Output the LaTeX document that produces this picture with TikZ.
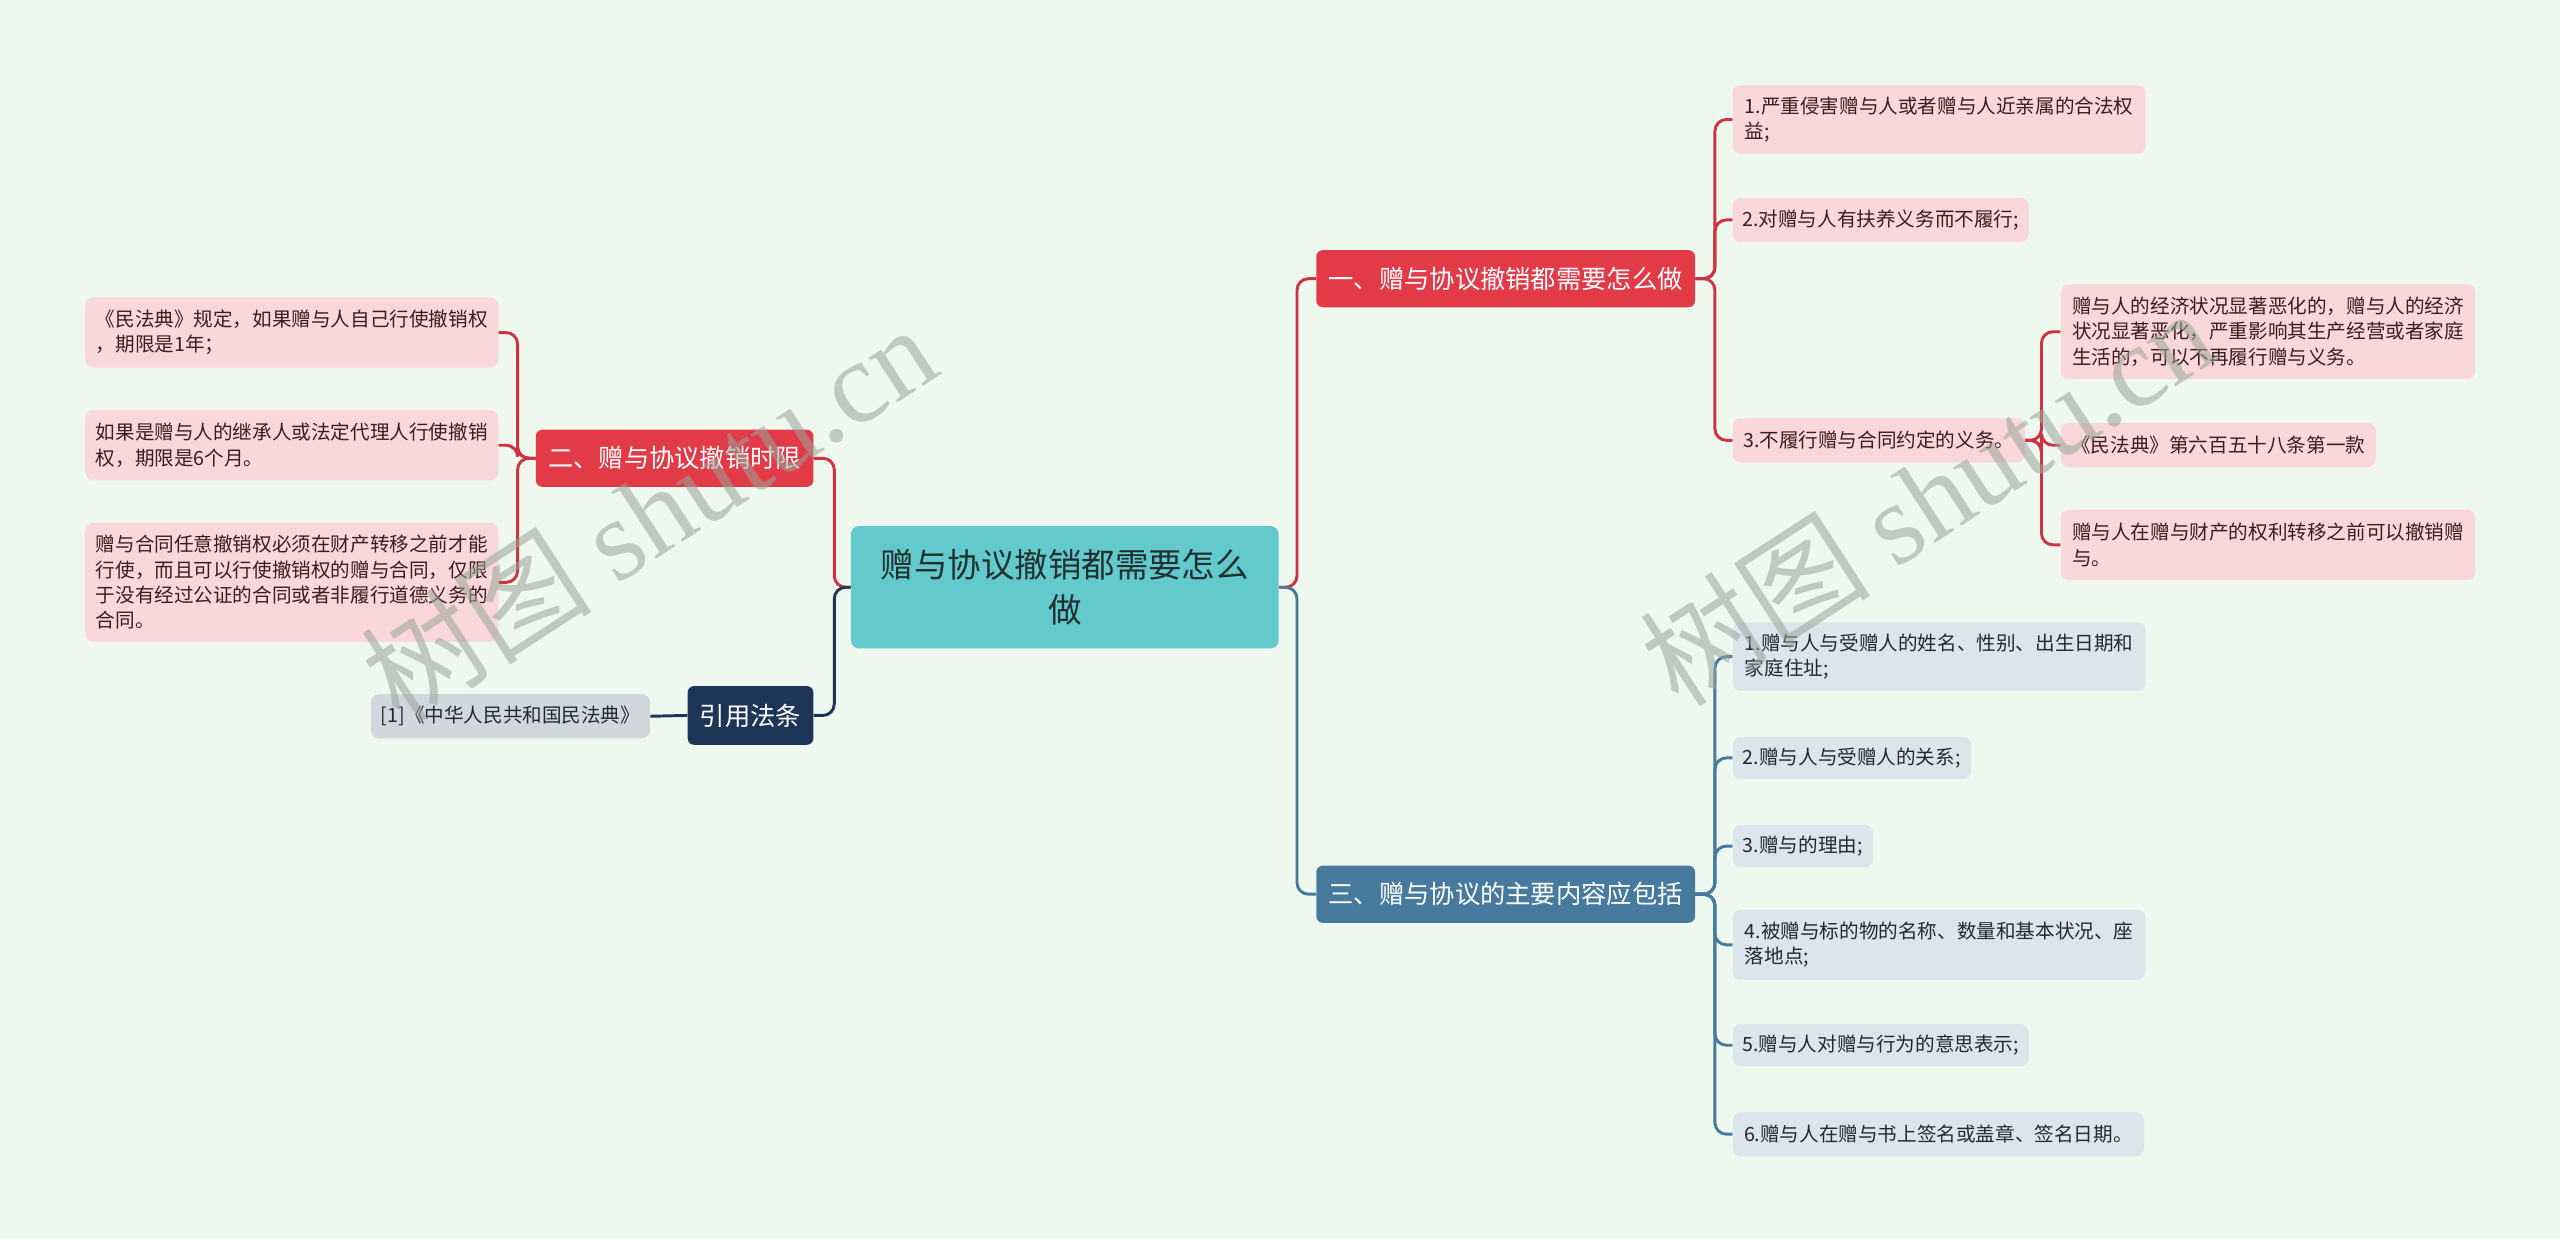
\documentclass[tikz,border=0pt]{standalone}
\usepackage{fontspec}
\setmainfont{Noto Sans CJK SC}
\newfontfamily\wmcjk{Noto Sans CJK SC}
\newfontfamily\wmserif{Liberation Serif}
\definecolor{bgc}{HTML}{EFF8EE}
\definecolor{tealc}{HTML}{62C9CC}
\definecolor{redc}{HTML}{E23A47}
\definecolor{redln}{HTML}{CD3340}
\definecolor{steelc}{HTML}{467B9D}
\definecolor{navyc}{HTML}{1D3557}
\definecolor{pinkc}{HTML}{F9D7DB}
\definecolor{pinktxt}{HTML}{3E1B1F}
\definecolor{bluec}{HTML}{DCE4EC}
\definecolor{bluetxt}{HTML}{1F2A36}
\definecolor{citec}{HTML}{D2D7DE}
\definecolor{centtxt}{HTML}{223030}
\definecolor{wmc}{HTML}{9AA49A}
\begin{document}
\begin{tikzpicture}[x=1pt,y=-1pt,
  leafbase/.style={anchor=north west, rounded corners=5pt, inner xsep=6pt, inner ysep=0pt,
    align=left, font=\fontsize{12}{15.5}\selectfont},
  pinkleaf/.style={leafbase, fill=pinkc, text=pinktxt},
  blueleaf/.style={leafbase, fill=bluec, text=bluetxt},
  citeleaf/.style={leafbase, fill=citec, text=bluetxt},
  branch/.style={anchor=north west, rounded corners=4pt, inner xsep=6pt, inner ysep=0pt,
    align=center, text=white, font=\fontsize{15.5}{19}\selectfont},
  redln/.style={draw=redln, line width=1.8pt, rounded corners=7pt},
  steelln/.style={draw=steelc, line width=1.8pt, rounded corners=7pt},
  navyln/.style={draw=navyc, line width=1.8pt, rounded corners=7pt},
  wm/.style={text=wmc, opacity=0.55, font=\fontsize{71}{75}\selectfont}
]
\fill[bgc] (0,0) rectangle (1568,759);
\useasboundingbox (0,0) rectangle (1568,759);

% central
\node[anchor=north west, fill=tealc, rounded corners=5pt, minimum width=262pt, minimum height=75pt,
  inner sep=0pt, align=center, text=centtxt, font=\fontsize{20.5}{28}\selectfont] (ctr) at (521,322)
  {赠与协议撤销都需要怎么\\做};

% branches
\node[branch, fill=redc, minimum width=232pt, minimum height=35pt] (b1) at (806,153) {一、赠与协议撤销都需要怎么做};
\node[branch, fill=steelc, minimum width=232pt, minimum height=35pt] (b3) at (806,530) {三、赠与协议的主要内容应包括};
\node[branch, fill=redc, minimum width=170pt, minimum height=35pt] (b2) at (328,263) {二、赠与协议撤销时限};
\node[branch, fill=navyc, minimum width=77pt, minimum height=36pt] (b4) at (421,420) {引用法条};

% left leaves
\node[pinkleaf, minimum width=253pt, minimum height=43pt] (L1) at (52,182) {《民法典》规定，如果赠与人自己行使撤销权\\，期限是1年；};
\node[pinkleaf, minimum width=253pt, minimum height=43pt] (L2) at (52,251) {如果是赠与人的继承人或法定代理人行使撤销\\权，期限是6个月。};
\node[pinkleaf, minimum width=253pt, minimum height=73pt] (L3) at (52,320) {赠与合同任意撤销权必须在财产转移之前才能\\行使，而且可以行使撤销权的赠与合同，仅限\\于没有经过公证的合同或者非履行道德义务的\\合同。};
\node[citeleaf, minimum width=171pt, minimum height=27pt] (C1) at (227,425) {[1]《中华人民共和国民法典》};

% right leaves (branch 1)
\node[pinkleaf, minimum width=253pt, minimum height=42pt] (R1) at (1061,52) {1.严重侵害赠与人或者赠与人近亲属的合法权\\益;};
\node[pinkleaf, minimum width=181pt, minimum height=27pt] (R2) at (1061,121) {2.对赠与人有扶养义务而不履行;};
\node[pinkleaf, minimum width=179pt, minimum height=27pt] (R3) at (1061,256) {3.不履行赠与合同约定的义务。};
\node[pinkleaf, minimum width=254pt, minimum height=58pt] (R3a) at (1262,174) {赠与人的经济状况显著恶化的，赠与人的经济\\状况显著恶化，严重影响其生产经营或者家庭\\生活的，可以不再履行赠与义务。};
\node[pinkleaf, minimum width=193pt, minimum height=27pt] (R3b) at (1262,259) {《民法典》第六百五十八条第一款};
\node[pinkleaf, minimum width=254pt, minimum height=43pt] (R3c) at (1262,312) {赠与人在赠与财产的权利转移之前可以撤销赠\\与。};

% right leaves (branch 3)
\node[blueleaf, minimum width=253pt, minimum height=42pt] (B1) at (1061,381) {1.赠与人与受赠人的姓名、性别、出生日期和\\家庭住址;};
\node[blueleaf, minimum width=146pt, minimum height=26pt] (B2) at (1061,451) {2.赠与人与受赠人的关系;};
\node[blueleaf, minimum width=86pt, minimum height=26pt] (B3) at (1061,505) {3.赠与的理由;};
\node[blueleaf, minimum width=253pt, minimum height=43pt] (B4) at (1061,557) {4.被赠与标的物的名称、数量和基本状况、座\\落地点;};
\node[blueleaf, minimum width=181pt, minimum height=26pt] (B5) at (1061,627) {5.赠与人对赠与行为的意思表示;};
\node[blueleaf, minimum width=252pt, minimum height=27pt] (B6) at (1061,681) {6.赠与人在赠与书上签名或盖章、签名日期。};

% connectors: center
\draw[redln] (ctr.east) -- ++(11,0) |- (b1.west);
\draw[steelln] (ctr.east) -- ++(11,0) |- (b3.west);
\draw[redln] (ctr.west) -- ++(-10,0) |- (b2.east);
\draw[navyln] (ctr.west) -- ++(-10,0) |- (b4.east);

% branch 2
\foreach \n in {L1,L2,L3} \draw[redln] (b2.west) -- ++(-11,0) |- (\n.east);
% citation
\draw[navyln] (b4.west) -- (C1.east);
% branch 1
\foreach \n in {R1,R2,R3} \draw[redln] (b1.east) -- ++(12,0) |- (\n.west);
\foreach \n in {R3a,R3b,R3c} \draw[redln] (R3.east) -- ++(10,0) |- (\n.west);
% branch 3
\foreach \n in {B1,B2,B3,B4,B5,B6} \draw[steelln] (b3.east) -- ++(12,0) |- (\n.west);

% watermarks
\node[wm, rotate=33] (wm1) at (397,314) {\wmcjk 树图 \wmserif shutu.cn};
\node[wm, rotate=33] (wm2) at (1180,304) {\wmcjk 树图 \wmserif shutu.cn};
\end{tikzpicture}
\end{document}
